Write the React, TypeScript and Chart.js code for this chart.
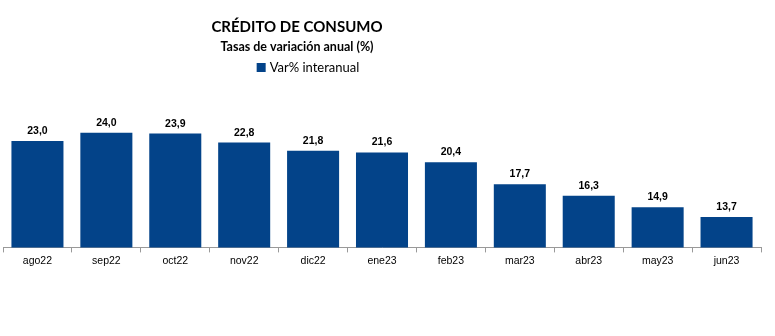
import React, { useEffect, useRef } from "react";
import { Chart, registerables } from "chart.js";

Chart.register(...registerables);

const categories = ["ago22", "sep22", "oct22", "nov22", "dic22", "ene23", "feb23", "mar23", "abr23", "may23", "jun23"];
const values = [23.0, 24.0, 23.9, 22.8, 21.8, 21.6, 20.4, 17.7, 16.3, 14.9, 13.7];
const seriesName = "Var% interanual";
const titleText = "CRÉDITO DE CONSUMO";
const subtitleText = "Tasas de variación anual (%)";
const barColor = "#034389";

const headerPlugin = {
  id: "header",
  afterDraw(chart: any) {
    const ctx = chart.ctx;
    const cx = 297;
    ctx.save();
    ctx.fillStyle = "#000";
    ctx.textAlign = "center";
    ctx.textBaseline = "alphabetic";
    ctx.font = "bold 15px Lato";
    ctx.fillText(titleText, cx, 32);
    ctx.font = "bold 12.5px Lato";
    ctx.fillText(subtitleText, cx, 51);
    ctx.font = "13px Lato";
    ctx.textAlign = "left";
    const tw = ctx.measureText(seriesName).width;
    const total = 9 + 4 + tw;
    const lx = 308 - total / 2;
    ctx.fillStyle = barColor;
    ctx.fillRect(lx, 63, 9, 9);
    ctx.fillStyle = "#000";
    ctx.fillText(seriesName, lx + 13, 72);
    ctx.restore();
  },
};

const valueLabelPlugin = {
  id: "valueLabels",
  afterDatasetsDraw(chart: any) {
    const ctx = chart.ctx;
    const meta = chart.getDatasetMeta(0);
    ctx.save();
    ctx.fillStyle = "#000";
    ctx.font = "bold 10.5px Arial, 'Liberation Sans'";
    ctx.textAlign = "center";
    ctx.textBaseline = "alphabetic";
    meta.data.forEach((bar: any, i: number) => {
      const v = chart.data.datasets[0].data[i] as number;
      ctx.fillText(v.toFixed(1).replace(".", ","), bar.x, bar.y - 7);
    });
    ctx.restore();
  },
};

export default function App() {
  const ref = useRef<HTMLCanvasElement>(null);
  useEffect(() => {
    if (!ref.current) return;
    const chart = new Chart(ref.current, {
      type: "bar",
      data: {
        labels: categories,
        datasets: [
          {
            label: seriesName,
            data: values,
            backgroundColor: barColor,
            categoryPercentage: 1,
            barPercentage: 0.755,
          },
        ],
      },
      options: {
        animation: false,
        responsive: false,
        maintainAspectRatio: false,
        layout: { padding: { left: 3, right: 14, top: 100, bottom: 67 } },
        plugins: {
          legend: { display: false },
          title: { display: false },
          tooltip: { enabled: false },
        },
        scales: {
          x: {
            offset: true,
            border: { display: true, color: "#999", width: 1 },
            grid: {
              display: true,
              offset: true,
              drawOnChartArea: false,
              drawTicks: true,
              tickLength: 5,
              color: "#999",
            },
            ticks: {
              color: "#000",
              font: { family: "Arial, 'Liberation Sans'", size: 10.5 },
              padding: 2,
              maxRotation: 0,
              autoSkip: false,
            },
          },
          y: {
            display: false,
            min: 10,
            max: 28,
          },
        },
      },
      plugins: [headerPlugin, valueLabelPlugin],
    });
    return () => chart.destroy();
  }, []);
  return (
    <div style={{ position: "absolute", left: 0, top: 0, width: 775, height: 336, background: "#fff" }}>
      <canvas ref={ref} width={775} height={336} style={{ width: 775, height: 336 }} />
    </div>
  );
}
